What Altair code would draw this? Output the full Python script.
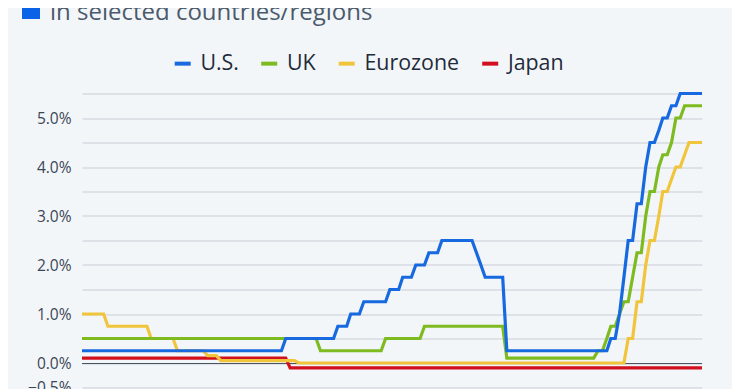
import altair as alt
import pandas as pd

# Monthly observations, Jan 2012 - Dec 2023 (one row of 12 per year)
months = pd.date_range("2012-01-01", periods=144, freq="MS").strftime("%Y-%m-%d").tolist()

us = [
    0.25, 0.25, 0.25, 0.25, 0.25, 0.25, 0.25, 0.25, 0.25, 0.25, 0.25, 0.25,  # 2012
    0.25, 0.25, 0.25, 0.25, 0.25, 0.25, 0.25, 0.25, 0.25, 0.25, 0.25, 0.25,  # 2013
    0.25, 0.25, 0.25, 0.25, 0.25, 0.25, 0.25, 0.25, 0.25, 0.25, 0.25, 0.25,  # 2014
    0.25, 0.25, 0.25, 0.25, 0.25, 0.25, 0.25, 0.25, 0.25, 0.25, 0.25, 0.50,  # 2015
    0.50, 0.50, 0.50, 0.50, 0.50, 0.50, 0.50, 0.50, 0.50, 0.50, 0.50, 0.75,  # 2016
    0.75, 0.75, 1.00, 1.00, 1.00, 1.25, 1.25, 1.25, 1.25, 1.25, 1.25, 1.50,  # 2017
    1.50, 1.50, 1.75, 1.75, 1.75, 2.00, 2.00, 2.00, 2.25, 2.25, 2.25, 2.50,  # 2018
    2.50, 2.50, 2.50, 2.50, 2.50, 2.50, 2.50, 2.25, 2.00, 1.75, 1.75, 1.75,  # 2019
    1.75, 1.75, 0.25, 0.25, 0.25, 0.25, 0.25, 0.25, 0.25, 0.25, 0.25, 0.25,  # 2020
    0.25, 0.25, 0.25, 0.25, 0.25, 0.25, 0.25, 0.25, 0.25, 0.25, 0.25, 0.25,  # 2021
    0.25, 0.25, 0.50, 0.50, 1.00, 1.75, 2.50, 2.50, 3.25, 3.25, 4.00, 4.50,  # 2022
    4.50, 4.75, 5.00, 5.00, 5.25, 5.25, 5.50, 5.50, 5.50, 5.50, 5.50, 5.50,  # 2023
]

uk = [
    0.50, 0.50, 0.50, 0.50, 0.50, 0.50, 0.50, 0.50, 0.50, 0.50, 0.50, 0.50,  # 2012
    0.50, 0.50, 0.50, 0.50, 0.50, 0.50, 0.50, 0.50, 0.50, 0.50, 0.50, 0.50,  # 2013
    0.50, 0.50, 0.50, 0.50, 0.50, 0.50, 0.50, 0.50, 0.50, 0.50, 0.50, 0.50,  # 2014
    0.50, 0.50, 0.50, 0.50, 0.50, 0.50, 0.50, 0.50, 0.50, 0.50, 0.50, 0.50,  # 2015
    0.50, 0.50, 0.50, 0.50, 0.50, 0.50, 0.50, 0.25, 0.25, 0.25, 0.25, 0.25,  # 2016
    0.25, 0.25, 0.25, 0.25, 0.25, 0.25, 0.25, 0.25, 0.25, 0.25, 0.50, 0.50,  # 2017
    0.50, 0.50, 0.50, 0.50, 0.50, 0.50, 0.50, 0.75, 0.75, 0.75, 0.75, 0.75,  # 2018
    0.75, 0.75, 0.75, 0.75, 0.75, 0.75, 0.75, 0.75, 0.75, 0.75, 0.75, 0.75,  # 2019
    0.75, 0.75, 0.10, 0.10, 0.10, 0.10, 0.10, 0.10, 0.10, 0.10, 0.10, 0.10,  # 2020
    0.10, 0.10, 0.10, 0.10, 0.10, 0.10, 0.10, 0.10, 0.10, 0.10, 0.10, 0.25,  # 2021
    0.25, 0.50, 0.75, 0.75, 1.00, 1.25, 1.25, 1.75, 2.25, 2.25, 3.00, 3.50,  # 2022
    3.50, 4.00, 4.25, 4.25, 4.50, 5.00, 5.00, 5.25, 5.25, 5.25, 5.25, 5.25,  # 2023
]

eurozone = [
    1.00, 1.00, 1.00, 1.00, 1.00, 1.00, 0.75, 0.75, 0.75, 0.75, 0.75, 0.75,  # 2012
    0.75, 0.75, 0.75, 0.75, 0.50, 0.50, 0.50, 0.50, 0.50, 0.50, 0.25, 0.25,  # 2013
    0.25, 0.25, 0.25, 0.25, 0.25, 0.15, 0.15, 0.15, 0.05, 0.05, 0.05, 0.05,  # 2014
    0.05, 0.05, 0.05, 0.05, 0.05, 0.05, 0.05, 0.05, 0.05, 0.05, 0.05, 0.05,  # 2015
    0.05, 0.05, 0.00, 0.00, 0.00, 0.00, 0.00, 0.00, 0.00, 0.00, 0.00, 0.00,  # 2016
    0.00, 0.00, 0.00, 0.00, 0.00, 0.00, 0.00, 0.00, 0.00, 0.00, 0.00, 0.00,  # 2017
    0.00, 0.00, 0.00, 0.00, 0.00, 0.00, 0.00, 0.00, 0.00, 0.00, 0.00, 0.00,  # 2018
    0.00, 0.00, 0.00, 0.00, 0.00, 0.00, 0.00, 0.00, 0.00, 0.00, 0.00, 0.00,  # 2019
    0.00, 0.00, 0.00, 0.00, 0.00, 0.00, 0.00, 0.00, 0.00, 0.00, 0.00, 0.00,  # 2020
    0.00, 0.00, 0.00, 0.00, 0.00, 0.00, 0.00, 0.00, 0.00, 0.00, 0.00, 0.00,  # 2021
    0.00, 0.00, 0.00, 0.00, 0.00, 0.00, 0.50, 0.50, 1.25, 1.25, 2.00, 2.50,  # 2022
    2.50, 3.00, 3.50, 3.50, 3.75, 4.00, 4.00, 4.25, 4.50, 4.50, 4.50, 4.50,  # 2023
]

japan = [
    0.10, 0.10, 0.10, 0.10, 0.10, 0.10, 0.10, 0.10, 0.10, 0.10, 0.10, 0.10,  # 2012
    0.10, 0.10, 0.10, 0.10, 0.10, 0.10, 0.10, 0.10, 0.10, 0.10, 0.10, 0.10,  # 2013
    0.10, 0.10, 0.10, 0.10, 0.10, 0.10, 0.10, 0.10, 0.10, 0.10, 0.10, 0.10,  # 2014
    0.10, 0.10, 0.10, 0.10, 0.10, 0.10, 0.10, 0.10, 0.10, 0.10, 0.10, 0.10,  # 2015
    -0.10, -0.10, -0.10, -0.10, -0.10, -0.10, -0.10, -0.10, -0.10, -0.10, -0.10, -0.10,  # 2016
    -0.10, -0.10, -0.10, -0.10, -0.10, -0.10, -0.10, -0.10, -0.10, -0.10, -0.10, -0.10,  # 2017
    -0.10, -0.10, -0.10, -0.10, -0.10, -0.10, -0.10, -0.10, -0.10, -0.10, -0.10, -0.10,  # 2018
    -0.10, -0.10, -0.10, -0.10, -0.10, -0.10, -0.10, -0.10, -0.10, -0.10, -0.10, -0.10,  # 2019
    -0.10, -0.10, -0.10, -0.10, -0.10, -0.10, -0.10, -0.10, -0.10, -0.10, -0.10, -0.10,  # 2020
    -0.10, -0.10, -0.10, -0.10, -0.10, -0.10, -0.10, -0.10, -0.10, -0.10, -0.10, -0.10,  # 2021
    -0.10, -0.10, -0.10, -0.10, -0.10, -0.10, -0.10, -0.10, -0.10, -0.10, -0.10, -0.10,  # 2022
    -0.10, -0.10, -0.10, -0.10, -0.10, -0.10, -0.10, -0.10, -0.10, -0.10, -0.10, -0.10,  # 2023
]

series_names = ["U.S.", "UK", "Eurozone", "Japan"]
series_colors = ["#1769e0", "#7dbb21", "#f1c53b", "#d20f1c"]
y_ticks = [-0.5, 0.0, 0.5, 1.0, 1.5, 2.0, 2.5, 3.0, 3.5, 4.0, 4.5, 5.0, 5.5]
title_text = "in selected countries/regions"

FONT = "Open Sans"

rows = []
for name, vals in zip(series_names, [us, uk, eurozone, japan]):
    for m, v in zip(months, vals):
        rows.append({"date": m, "rate": v, "series": name})
df = pd.DataFrame(rows)

color_scale = alt.Scale(domain=series_names, range=series_colors)
x_enc = alt.X("date:T", axis=None, scale=alt.Scale(nice=False))
y_axis = alt.Axis(
    values=y_ticks,
    labelExpr="(datum.value == -0.5 || (datum.value % 1 == 0 && datum.value <= 5)) ? format(datum.value, '.1f') + '%' : ''",
    grid=True,
    gridColor="#c9ced6",
    gridWidth=1,
    domain=False,
    ticks=False,
    labelFont=FONT,
    labelFontSize=15.5,
    labelColor="#3b4656",
    labelPadding=11,
    labelOverlap=False,
    title=None,
)
y_scale = alt.Scale(domain=[-0.5, 5.5], nice=False, zero=False)
legend = alt.Legend(
    title=None,
    orient="none",
    legendX=90,
    legendY=-41,
    direction="horizontal",
    symbolType="stroke",
    symbolStrokeWidth=4,
    symbolSize=256,
    labelFont=FONT,
    labelFontSize=21.4,
    labelColor="#1f2b3a",
    labelOffset=7,
    columnPadding=13.5,
    padding=0,
)


def series_line(name):
    return (
        alt.Chart(df)
        .transform_filter(alt.datum.series == name)
        .mark_line(strokeWidth=3.2)
        .encode(
            x=x_enc,
            y=alt.Y("rate:Q", scale=y_scale, axis=y_axis),
            color=alt.Color("series:N", scale=color_scale, legend=legend),
        )
    )


zero_rule = (
    alt.Chart(pd.DataFrame({"z": [0.0]}))
    .mark_rule(color="#4a5564", strokeWidth=1, yOffset=0.5)
    .encode(y=alt.Y("z:Q", scale=y_scale, axis=y_axis))
)

title_box = (
    alt.Chart(pd.DataFrame({"k": [1]}))
    .mark_rect(color="#0a62e6")
    .encode(x=alt.value(-60), x2=alt.value(-42), y=alt.value(-94), y2=alt.value(-74.5))
)

title = (
    alt.Chart(pd.DataFrame({"t": [title_text]}))
    .mark_text(align="left", baseline="alphabetic", font=FONT, fontSize=24, color="#4b5a6b")
    .encode(text="t:N", x=alt.value(-32), y=alt.value(-74))
)

asterisk = (
    alt.Chart(pd.DataFrame({"t": ["*"]}))
    .mark_text(align="left", baseline="alphabetic", font=FONT, fontSize=14, color="#4b5a6b")
    .encode(text="t:N", x=alt.value(292), y=alt.value(-83))
)

chart = (
    alt.layer(
        title_box,
        title,
        asterisk,
        zero_rule,
        series_line("Japan"),
        series_line("Eurozone"),
        series_line("UK"),
        series_line("U.S."),
    )
    .properties(
        width=620,
        height=294,
        padding={"left": 74, "top": 85.5, "right": 30, "bottom": 1.5},
        autosize=alt.AutoSizeParams(type="none"),
        background="#f3f6f9",
    )
    .configure_view(stroke=None)
)

chart.save("out.html", embed_options={"renderer": "svg", "actions": False})
